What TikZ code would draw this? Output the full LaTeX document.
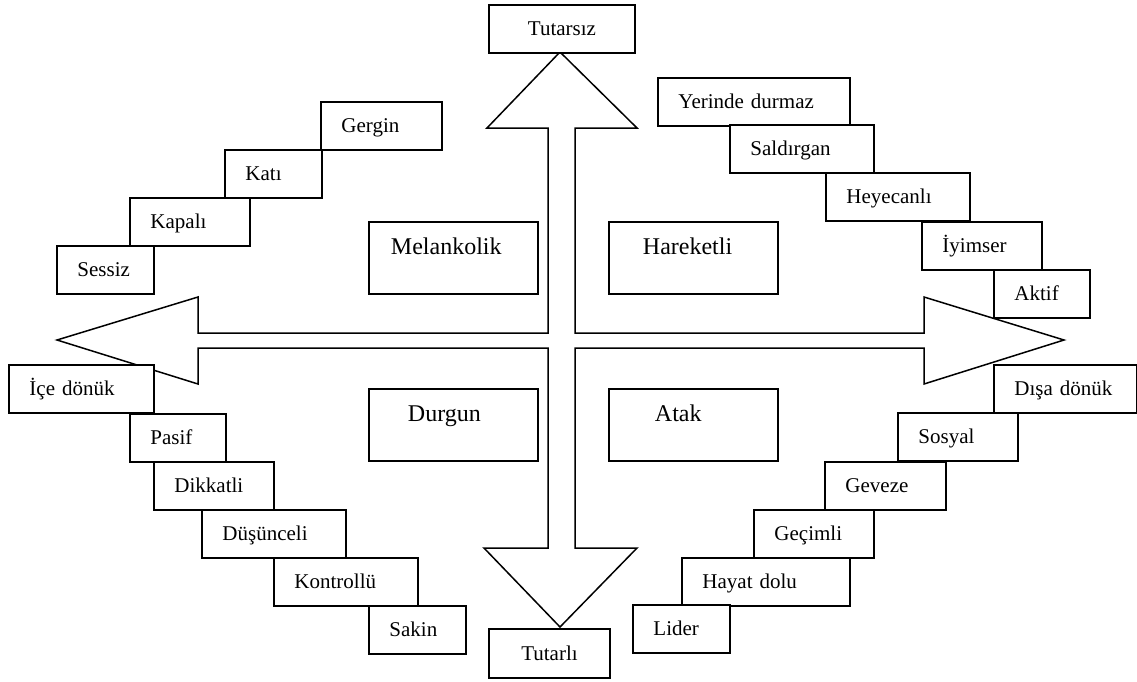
\documentclass[tikz,border=0pt]{standalone}
\usepackage{fontspec}
\setmainfont{Liberation Serif}
\begin{document}
\begin{tikzpicture}[x=1pt,y=-1pt,
  tag/.style={draw, fill=white, line width=1.9pt, anchor=north west,
    inner xsep=20.5pt, inner ysep=0pt, minimum height=48pt, align=left,
    text height=14pt, text depth=0pt, font=\fontsize{21}{25}\selectfont},
  pole/.style={draw, fill=white, line width=1.9pt, anchor=north west,
    inner ysep=0pt, minimum height=48pt, align=center,
    text height=14pt, text depth=0pt, font=\fontsize{21}{25}\selectfont},
  temper/.style={draw, fill=white, line width=1.9pt, anchor=north west,
    inner ysep=0pt, minimum height=72pt, align=left,
    text height=14pt, text depth=20pt, font=\fontsize{24}{28}\selectfont},
  cross/.style={draw, line width=1.5pt, line join=miter}]
\useasboundingbox (0,0) rectangle (1137,681);

% four-way arrow
\path[cross] (560,52) -- (637,128) -- (575,128) -- (575,333) -- (924,333)
  -- (924,297) -- (1064,340) -- (924,384) -- (924,348) -- (575,348)
  -- (575,548) -- (637,548) -- (560,627) -- (484,548) -- (548,548)
  -- (548,348) -- (198,348) -- (198,384) -- (57,340) -- (198,297)
  -- (198,333) -- (548,333) -- (548,128) -- (487,128) -- cycle;

% poles of the vertical axis
\node[pole, minimum width=146pt] (tutarsiz) at (488,4) {Tutarsız};
\node[pole, minimum width=121pt, minimum height=49pt] (tutarli) at (488,628) {Tutarlı};

% temperaments
\node[temper, inner xsep=22pt, text width=125pt] (melankolik) at (368,221) {Melankolik};
\node[temper, inner xsep=34pt, text width=101pt] (hareketli) at (608,221) {Hareketli};
\node[temper, inner xsep=39pt, text width=91pt] (durgun) at (368,388) {Durgun};
\node[temper, inner xsep=46pt, text width=77pt] (atak) at (608,388) {Atak};

% upper left steps
\node[tag, text width=80pt] (gergin) at (320,101) {Gergin};
\node[tag, text width=56pt] (kati) at (224,149) {Katı};
\node[tag, text width=79pt] (kapali) at (129,197) {Kapalı};
\node[tag, text width=56pt] (sessiz) at (56,245) {Sessiz};

% upper right steps
\node[tag, text width=151pt] (yerinde) at (657,77) {Yerinde durmaz};
\node[tag, text width=103pt] (saldirgan) at (729,124) {Saldırgan};
\node[tag, text width=103pt] (heyecanli) at (825,172) {Heyecanlı};
\node[tag, text width=79pt] (iyimser) at (921,221) {İyimser};
\node[tag, text width=55pt] (aktif) at (993,269) {Aktif};

% lower left steps
\node[tag, text width=104pt] (icedonuk) at (8,364) {İçe dönük};
\node[tag, text width=55pt] (pasif) at (129,413) {Pasif};
\node[tag, text width=79pt] (dikkatli) at (153,461) {Dikkatli};
\node[tag, text width=103pt] (dusunceli) at (201,509) {Düşünceli};
\node[tag, text width=103pt] (kontrollu) at (273,557) {Kontrollü};
\node[tag, text width=56pt] (sakin) at (368,605) {Sakin};

% lower right steps
\node[tag, text width=102pt] (disadonuk) at (993,364) {Dışa dönük};
\node[tag, text width=79pt] (sosyal) at (897,412) {Sosyal};
\node[tag, text width=80pt] (geveze) at (824,461) {Geveze};
\node[tag, text width=79pt] (gecimli) at (753,509) {Geçimli};
\node[tag, text width=127pt] (hayatdolu) at (681,557) {Hayat dolu};
\node[tag, text width=56pt] (lider) at (632,604) {Lider};
\end{tikzpicture}
\end{document}
